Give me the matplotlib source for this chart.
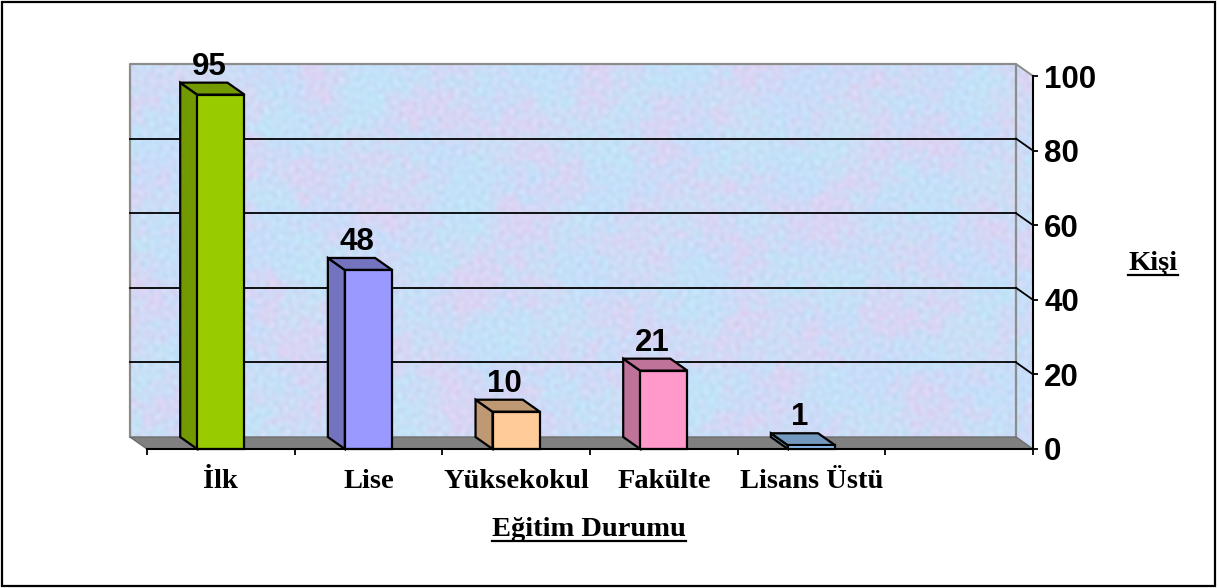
"""Education level head-count chart drawn as a pseudo 3D column chart."""

import matplotlib

matplotlib.use("Agg")

import matplotlib.pyplot as plt
import numpy as np
from matplotlib.patches import Polygon, Rectangle
from matplotlib.transforms import Affine2D

W, H = 1219, 588

categories = ["İlk", "Lise", "Yüksekokul", "Fakülte", "Lisans Üstü"]
values = [95, 48, 10, 21, 1]
y_ticks = [0, 20, 40, 60, 80, 100]
front_colors = ["#99cc00", "#9999ff", "#ffcc99", "#ff99cc", "#99ccff"]
shade_colors = ["#739900", "#7373bf", "#bf9973", "#bf7399", "#7399bf"]

SANS = "Liberation Sans"
SERIF = "Liberation Serif"
DEPTH_X, DEPTH_Y = -17, 12
BAR_WIDTH = 0.32


def blobs(xx, yy, start, wavelengths):
    # isotropic cloud pattern: plane waves turned by the golden angle
    out = np.zeros(xx.shape)
    for k, wl in enumerate(wavelengths, start):
        ang = k * 2.39996
        phase = k * k * 0.7
        out += np.sin((xx * np.cos(ang) + yy * np.sin(ang)) * 2 * np.pi / wl + phase)
    return out / np.sqrt(len(wavelengths) / 2)


def wall_texture(rows=384, cols=910):
    # mottled blue / lilac fill of the chart walls, not data
    yy, xx = np.mgrid[0:rows, 0:cols]
    coarse = [150 - 5 * k for k in range(20)]
    fine = [34 - k for k in range(24)]
    tiny = [13 - 0.3 * k for k in range(20)]
    a = blobs(xx, yy, 1, coarse) + 0.6 * blobs(xx, yy, 40, fine)
    b = blobs(xx, yy, 80, coarse) + 0.6 * blobs(xx, yy, 120, fine)
    c = blobs(xx, yy, 160, tiny)
    blue = np.array([198, 222, 250.0])
    cyan = np.array([190, 232, 246.0])
    pink = np.array([219, 212, 243.0])
    t1 = np.clip(a * 0.3 + 0.3, 0, 1)[..., None]
    t2 = np.clip(b * 0.3 + 0.5, 0, 1)[..., None]
    rgb = blue * (1 - t2) + pink * t2
    rgb = rgb * (1 - 0.6 * t1) + cyan * 0.6 * t1
    rgb += 2.0 * c[..., None]
    return np.clip(rgb / 255, 0, 1)


def underlined(fig, ax, x, y, label):
    txt = ax.text(x, y, label, fontfamily=SERIF, fontweight="bold", fontsize=20.5,
                  ha="center", va="center", transform=None)
    box = txt.get_window_extent(fig.canvas.get_renderer())
    fig.add_artist(plt.Line2D([box.x0, box.x1], [y - 11, y - 11], color="black",
                              lw=1.6, transform=None))


fig = plt.figure(figsize=(W / 100, H / 100), dpi=100, facecolor="white")
ax = fig.add_axes([147 / W, 1 - 449 / H, (1033 - 147) / W, (449 - 76) / H])
ax.patch.set_visible(False)

back = ax.transData + Affine2D().translate(DEPTH_X, DEPTH_Y)

x_max = len(categories) + 1
ax.set_xlim(0, x_max)
ax.set_ylim(y_ticks[0], y_ticks[-1])


def front_px(x, y):
    return ax.transData.transform((x, y))


def back_px(x, y):
    return back.transform((x, y))


# walls: the same texture runs over the back wall and the right side wall
im = ax.imshow(wall_texture(), extent=(0, x_max + 0.2, -5, y_ticks[-1]), aspect="auto",
               transform=back, zorder=1, interpolation="bilinear")
ax.set_xlim(0, x_max)
ax.set_ylim(y_ticks[0], y_ticks[-1])
outline = [back_px(0, 0), back_px(0, 100), back_px(x_max, 100), front_px(x_max, 100),
           front_px(x_max, 0), back_px(x_max, 0)]
clip = Polygon(outline, closed=True, transform=None, fc="none", ec="none")
ax.add_patch(clip)
im.set_clip_box(fig.bbox)
im.set_clip_path(clip)

# wall edges
wall_edge = "#8c8c8c"
ax.plot([0, 0, x_max, x_max], [0, 100, 100, 0], color=wall_edge, lw=1.6, transform=back,
        clip_on=False, zorder=2)
top_back, top_front = back_px(x_max, 100), front_px(x_max, 100)
ax.plot([top_back[0], top_front[0]], [top_back[1], top_front[1]], color=wall_edge, lw=1.4,
        transform=None, clip_on=False, zorder=2)

# gridlines on the back wall, then down the side wall to the axis
for tick in y_ticks[1:-1]:
    ax.plot([0, x_max], [tick, tick], color="black", lw=1.3, transform=back, clip_on=False,
            zorder=3)
    p, q = back_px(x_max, tick), front_px(x_max, tick)
    ax.plot([p[0], q[0]], [p[1], q[1]], color="black", lw=1.3, transform=None, clip_on=False,
            zorder=3)

# floor
floor = [front_px(0, 0), front_px(x_max, 0), back_px(x_max, 0), back_px(0, 0)]
ax.add_patch(Polygon(floor, closed=True, transform=None, fc="#808080", ec="#6e6e6e", lw=1,
                     zorder=4, clip_on=False))

# columns
centers = np.arange(len(categories)) + 0.5
ax.bar(centers, values, BAR_WIDTH, color=front_colors, edgecolor="black", linewidth=1.6,
       zorder=7, clip_on=False)
for cx, val, shade in zip(centers, values, shade_colors):
    left, right = cx - BAR_WIDTH / 2, cx + BAR_WIDTH / 2
    side = [front_px(left, 0), front_px(left, val), back_px(left, val), back_px(left, 0)]
    top = [front_px(left, val), front_px(right, val), back_px(right, val), back_px(left, val)]
    for face in (side, top):
        ax.add_patch(Polygon(face, closed=True, transform=None, fc=shade, ec="black", lw=1.6,
                             zorder=6, clip_on=False))
    ax.annotate(str(val), (cx, val), xytext=(-12, 13), textcoords="offset pixels", ha="center",
                va="bottom", fontfamily=SANS, fontweight="bold", fontsize=22.5, zorder=8,
                annotation_clip=False)

# axes
for name in ("left", "top"):
    ax.spines[name].set_visible(False)
for name in ("right", "bottom"):
    ax.spines[name].set_linewidth(1.5)
    ax.spines[name].set_zorder(9)

ax.yaxis.tick_right()
ax.set_yticks(y_ticks)
ax.set_yticklabels([str(t) for t in y_ticks], fontfamily=SANS, fontweight="bold", fontsize=22.5)
ax.tick_params(axis="y", direction="out", length=3.5, width=1.3, pad=4.5)

ax.set_xticks(np.arange(x_max + 1))
ax.set_xticklabels([])
ax.set_xticks(centers, minor=True)
ax.set_xticklabels(categories, minor=True, fontfamily=SERIF, fontweight="bold", fontsize=20.5)
ax.tick_params(axis="x", which="major", direction="out", length=4, width=1.3)
ax.tick_params(axis="x", which="minor", length=0, pad=14.5)

fig.canvas.draw()
underlined(fig, ax, 589, H - 530, "Eğitim Durumu")
underlined(fig, ax, 1153, H - 264, "Kişi")

# outer chart frame
fig.add_artist(Rectangle((2 / W, 2 / H), 1213 / W, 584 / H, transform=fig.transFigure,
                         fc="none", ec="black", lw=1.6))

fig.savefig("out.png", dpi=100)
